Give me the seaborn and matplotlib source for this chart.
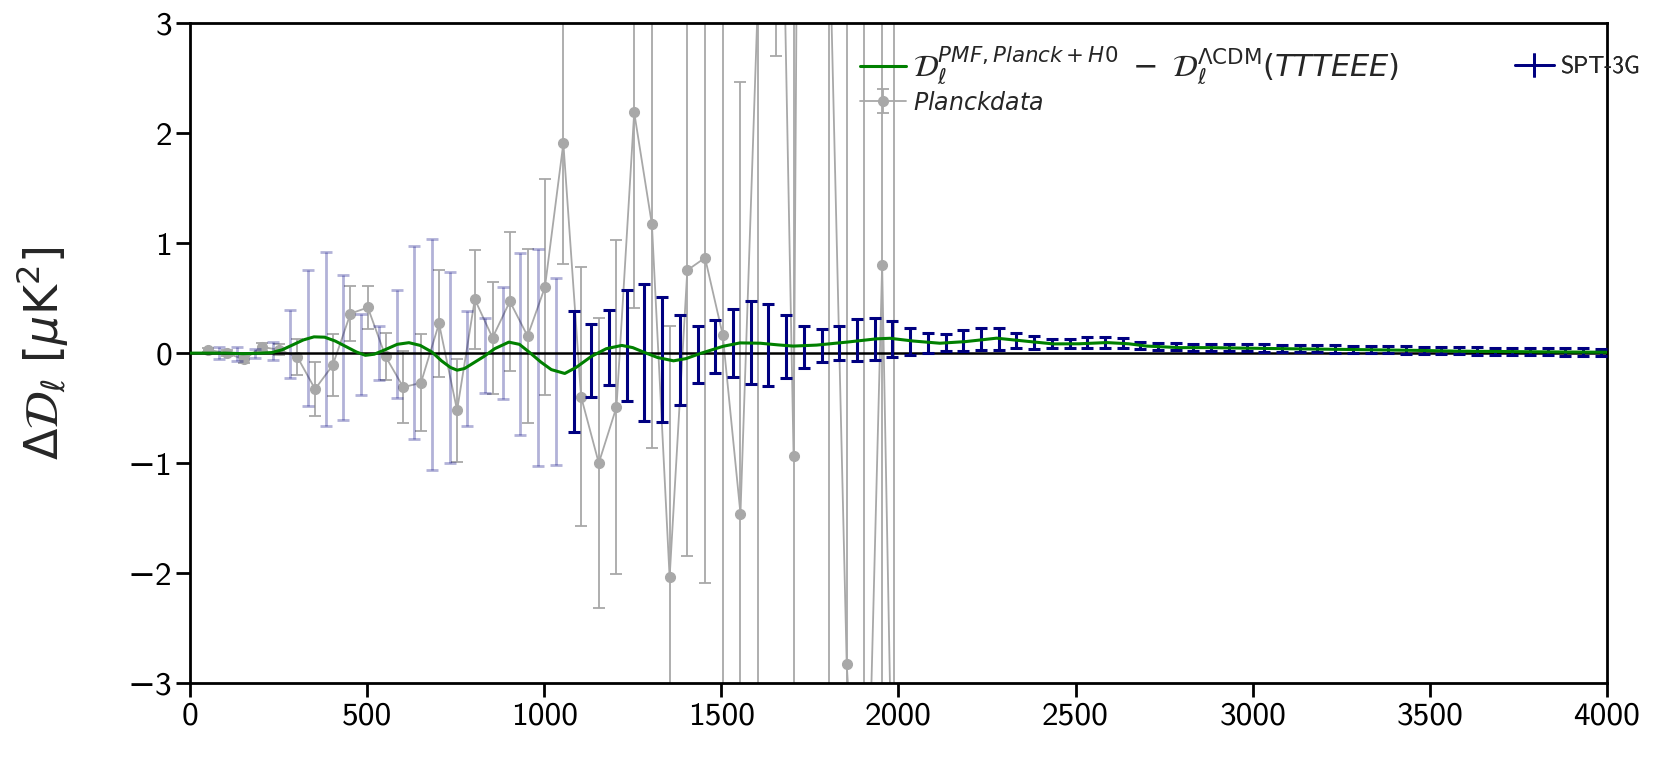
import numpy as np
import matplotlib
matplotlib.use('Agg')
import matplotlib.pyplot as plt
import seaborn as sns

# ---------------- data ----------------
model_ell = [0, 50, 100, 150, 200, 230, 260, 290, 320, 350, 380, 410, 440, 470, 495,
             520, 550, 585, 618, 650, 683, 710, 735, 754, 775, 800, 830, 860, 900, 930,
             961, 990, 1020, 1058, 1090, 1133, 1175, 1219, 1250, 1280, 1320, 1365, 1400,
             1440, 1506, 1553, 1610, 1660, 1703, 1769, 1854, 1938, 1976, 2042, 2117,
             2190, 2277, 2371, 2437, 2510, 2588, 2650, 2701, 2795, 2880, 2983, 3100,
             3276, 3463, 3579, 3800, 4000]
model_dl = [0.0, 0.0, 0.0, -0.005, 0.0, 0.005, 0.03, 0.075, 0.12, 0.148, 0.145, 0.11,
            0.06, 0.01, -0.02, -0.01, 0.03, 0.08, 0.095, 0.07, 0.01, -0.07, -0.13,
            -0.155, -0.14, -0.09, -0.03, 0.04, 0.1, 0.08, 0.0, -0.08, -0.15, -0.185,
            -0.13, -0.03, 0.04, 0.07, 0.05, 0.01, -0.04, -0.07, -0.05, -0.004, 0.063,
            0.093, 0.09, 0.075, 0.064, 0.073, 0.1, 0.13, 0.135, 0.11, 0.09, 0.105,
            0.136, 0.105, 0.084, 0.085, 0.096, 0.085, 0.064, 0.05, 0.05, 0.045, 0.04,
            0.033, 0.025, 0.018, 0.012, 0.008]

planck_ell = [52, 103, 153, 202, 252, 303, 353, 403, 453, 502, 552, 602, 652, 703, 754,
              804, 854, 903, 953, 1002, 1054, 1104, 1154, 1204, 1254, 1304, 1354, 1404,
              1454, 1504, 1554, 1604, 1654, 1704, 1754, 1804, 1854, 1904, 1954, 1987]
planck_dl = [0.03, 0.0, -0.057, 0.057, 0.03, -0.035, -0.327, -0.11, 0.36, 0.415, -0.03,
             -0.31, -0.27, 0.27, -0.52, 0.49, 0.14, 0.47, 0.155, 0.6, 1.91, -0.395, -1.0,
             -0.49, 2.19, 1.17, -2.04, 0.754, 0.867, 0.165, -1.46, 3.3, 7.5, -0.94, 24.0,
             4.0, -2.83, -5.5, 0.8, -4.9]
planck_err = [0.02, 0.025, 0.03, 0.035, 0.05, 0.16, 0.245, 0.28, 0.25, 0.2, 0.21, 0.33,
              0.44, 0.49, 0.47, 0.45, 0.51, 0.63, 0.79, 0.98, 1.1, 1.18, 1.32, 1.52, 1.78,
              2.03, 2.29, 2.6, 2.96, 3.4, 3.93, 6.5, 4.8, 5.0, 12.0, 8.0, 6.5, 9.0, 5.0, 9.0]

spt_low_ell = [83, 133, 183, 233, 283, 333, 383, 433, 483, 533, 583, 633, 683, 733, 783,
               833, 883, 933, 983, 1033]
spt_low_dl = [0.0, -0.005, 0.0, 0.02, 0.085, 0.14, 0.13, 0.05, -0.01, 0.0, 0.08, 0.095,
              -0.01, -0.13, -0.14, -0.02, 0.09, 0.085, -0.04, -0.17]
spt_low_err = [0.055, 0.065, 0.04, 0.08, 0.31, 0.62, 0.79, 0.66, 0.37, 0.245, 0.49, 0.875,
               1.05, 0.87, 0.52, 0.34, 0.51, 0.83, 0.99, 0.85]

spt_ell = [1083, 1133, 1183, 1233, 1283, 1333, 1383, 1433, 1483, 1533, 1583, 1633, 1683,
           1733, 1783, 1833, 1883, 1933, 1983, 2033, 2083, 2133, 2183, 2233, 2283, 2333,
           2383, 2433, 2483, 2533, 2583, 2633, 2683, 2733, 2783, 2833, 2883, 2933, 2983,
           3033, 3083, 3133, 3183, 3233, 3283, 3333, 3383, 3433, 3483, 3533, 3583, 3633,
           3683, 3733, 3783, 3833, 3883, 3933, 3983]
spt_dl = [-0.17, -0.066, 0.05, 0.067, 0.005, -0.06, -0.06, -0.01, 0.06, 0.095, 0.095,
          0.075, 0.06, 0.055, 0.07, 0.095, 0.12, 0.13, 0.13, 0.105, 0.094, 0.098, 0.115,
          0.125, 0.13, 0.115, 0.097, 0.088, 0.088, 0.097, 0.097, 0.09, 0.07, 0.063, 0.058,
          0.055, 0.053, 0.05, 0.048, 0.047, 0.045, 0.042, 0.04, 0.038, 0.036, 0.033, 0.031,
          0.029, 0.027, 0.024, 0.022, 0.02, 0.018, 0.016, 0.014, 0.012, 0.011, 0.01, 0.009]
spt_err = [0.55, 0.33, 0.34, 0.505, 0.62, 0.57, 0.41, 0.26, 0.24, 0.31, 0.38, 0.37, 0.29,
           0.19, 0.15, 0.155, 0.19, 0.19, 0.166, 0.12, 0.09, 0.075, 0.092, 0.1, 0.1, 0.07,
           0.06, 0.045, 0.045, 0.047, 0.047, 0.045, 0.035, 0.032, 0.032, 0.032, 0.032,
           0.032, 0.032, 0.033, 0.033, 0.033, 0.033, 0.033, 0.033, 0.033, 0.033, 0.033,
           0.033, 0.033, 0.033, 0.033, 0.033, 0.033, 0.033, 0.033, 0.033, 0.033, 0.033]

xticks = [0, 500, 1000, 1500, 2000, 2500, 3000, 3500, 4000]
yticks = [-3, -2, -1, 0, 1, 2, 3]

model_label = r'$\mathcal{D}_\ell^{PMF,Planck+H0}\;-\;\mathcal{D}_\ell^{\Lambda\mathrm{CDM}}(TTTEEE)$'
planck_label = r'$Planck data$'
spt_label = 'SPT-3G'

# ---------------- style ----------------
sns.set_theme(style='ticks')
plt.rcParams['font.family'] = ['cmss10', 'DejaVu Sans']
plt.rcParams['mathtext.fontset'] = 'dejavusans'
plt.rcParams['axes.linewidth'] = 2.0
plt.rcParams['axes.formatter.use_mathtext'] = False

GRAY = '#a8a8a8'
NAVY = 'navy'

fig = plt.figure(figsize=(16.61, 7.68), dpi=100)
ax = fig.add_axes([0.1144, 0.1107, 0.853, 0.859])

planck = ax.errorbar(planck_ell, planck_dl, yerr=planck_err, fmt='o-', color=GRAY,
                     ms=7, lw=1.3, elinewidth=1.3, capsize=4, capthick=1.3, zorder=1,
                     label=planck_label)
ax.errorbar(spt_low_ell, spt_low_dl, yerr=spt_low_err, fmt='none', ecolor=NAVY,
            alpha=0.3, elinewidth=2.0, capsize=4, capthick=2.0, zorder=2)
ax.axhline(0, color='black', lw=1.8, zorder=3)
ax.errorbar(spt_ell, spt_dl, yerr=spt_err, fmt='none', ecolor=NAVY,
            elinewidth=2.2, capsize=4, capthick=2.2, zorder=4)
spt_proxy = ax.errorbar([], [], yerr=[], fmt='-', color=NAVY, lw=2.0,
                        elinewidth=2.0, capsize=4, capthick=2.0, label=spt_label)
sns.lineplot(x=model_ell, y=model_dl, color='green', lw=2.2, ax=ax, zorder=5,
             label=model_label)
model_handle = ax.get_lines()[-1]

ax.set_xlim(0, 4000)
ax.set_ylim(-3, 3)
ax.set_xticks(xticks)
ax.set_yticks(yticks)
ax.tick_params(direction='out', length=10, width=2, labelsize=24, pad=3,
               top=False, right=False, colors='black')
for s in ax.spines.values():
    s.set_linewidth(2.0)
    s.set_color('black')
ax.set_ylabel(r'$\Delta\mathcal{D}_\ell\ [\mu\mathrm{K}^2]$', fontsize=33)
ax.yaxis.set_label_coords(-0.085, 0.5)
ax.set_xlabel('')


def place_legend(handle, label, x_px, y_px, fs, hl):
    lg = ax.legend([handle], [label], frameon=False, fontsize=fs, loc='center left',
                   borderpad=0, borderaxespad=0,
                   bbox_to_anchor=(x_px / 1661, 1 - y_px / 768),
                   bbox_transform=fig.transFigure,
                   handlelength=hl, handletextpad=5.3 / fs)
    ax.add_artist(lg)
    return lg


place_legend(model_handle, model_label, 860, 66, 22, 33.0 / 22)
place_legend(planck, planck_label, 860, 103, 17, 33.0 / 17)
place_legend(spt_proxy, spt_label, 1515, 67, 17, 28.0 / 17)

fig.savefig('out.png', dpi=100)
